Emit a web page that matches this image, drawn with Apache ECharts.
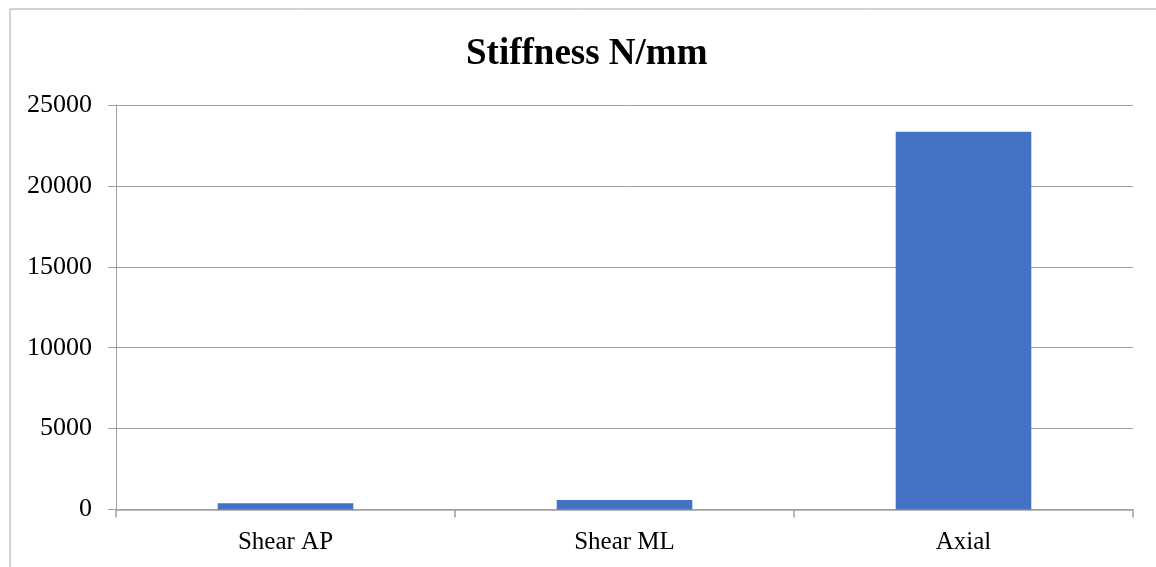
<!DOCTYPE html>
<html><head><meta charset="utf-8">
<script src="https://cdn.jsdelivr.net/npm/echarts@6/dist/echarts.min.js"></script>
<style>html,body{margin:0;padding:0;background:#fff}#c{width:1156px;height:567px}</style>
</head><body><div id="c"></div>
<script>
const categories = ["Shear AP", "Shear ML", "Axial"];
const stiffness = [380, 590, 23340];
const yTicks = { min: 0, max: 25000, interval: 5000 };

const chart = echarts.init(document.getElementById('c'), null, { renderer: 'canvas' });
const font = '"Liberation Serif", "Times New Roman", serif';
chart.setOption({
  animation: false,
  backgroundColor: '#fff',
  graphic: [{
    type: 'rect', x: 0, y: 0, silent: true,
    shape: { x: 10, y: 9, width: 1200, height: 600 },
    style: { fill: 'none', stroke: '#a6a6a6', lineWidth: 1 }
  }],
  title: {
    text: 'Stiffness N/mm', left: 461, top: 31,
    textStyle: { fontFamily: font, fontWeight: 'bold', fontSize: 37, color: '#000' }
  },
  grid: { left: 116, right: 23, top: 105, bottom: 57.5 },
  xAxis: {
    type: 'category', data: categories,
    axisLine: { lineStyle: { color: '#a0a0a0', width: 1.5 } },
    axisTick: { show: true, length: 8, lineStyle: { color: '#a0a0a0', width: 1.5 } },
    axisLabel: { fontFamily: font, fontSize: 25, color: '#000', margin: 20 }
  },
  yAxis: {
    type: 'value', min: yTicks.min, max: yTicks.max, interval: yTicks.interval,
    axisLine: { show: true, lineStyle: { color: '#a0a0a0', width: 1 } },
    axisTick: { show: true, length: 8, lineStyle: { color: '#a0a0a0' } },
    splitLine: { lineStyle: { color: '#a0a0a0', width: 1 } },
    axisLabel: { fontFamily: font, fontSize: 26, color: '#000', margin: 24, formatter: v => String(v) }
  },
  series: [{
    type: 'bar', data: stiffness, barWidth: '40%',
    itemStyle: { color: '#4472c4' }
  }]
});
</script></body></html>
